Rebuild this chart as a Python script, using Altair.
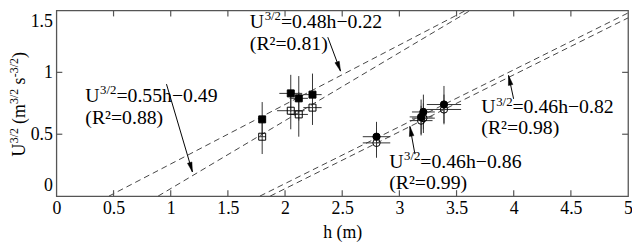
import math
import altair as alt
import pandas as pd

# ---------------- data ----------------
x_ticks = [0, 0.5, 1, 1.5, 2, 2.5, 3, 3.5, 4, 4.5, 5]
y_ticks = [0, 0.5, 1, 1.5]

sq_h = [1.80, 2.05, 2.12, 2.24]
sq_filled_U = [0.62, 0.83, 0.79, 0.82]
sq_open_U = [0.48, 0.69, 0.66, 0.715]
sq_filled_errU = [0.14, 0.15, 0.18, 0.17]
sq_open_errU = [0.14, 0.15, 0.18, 0.14]
sq_filled_errh = [0.03, 0.10, 0.08, 0.08]
sq_open_errh = [0.03, 0.12, 0.08, 0.08]

ci_h = [2.80, 3.19, 3.21, 3.39]
ci_filled_U = [0.48, 0.64, 0.68, 0.74]
ci_open_U = [0.43, 0.61, 0.63, 0.70]
ci_filled_errU = [0.12, 0.14, 0.14, 0.15]
ci_open_errU = [0.12, 0.12, 0.12, 0.12]
ci_errh = [0.12, 0.10, 0.10, 0.15]

# fitted lines (end points)
line_h0 = [0.46, 0.89, 1.78, 1.87]
line_U0 = [0.0, 0.0, 0.0, 0.0]
line_h1 = [3.58, 3.62, 5.0, 5.0]
line_U1 = [1.5, 1.5, 1.48, 1.44]

# annotations
eq_text = ["=0.48h\u22120.22", "=0.55h\u22120.49", "=0.46h\u22120.82", "=0.46h\u22120.86"]
r2_text = ["(R\u00b2=0.81)", "(R\u00b2=0.88)", "(R\u00b2=0.98)", "(R\u00b2=0.99)"]
eq_h = [1.692, 0.253, 3.717, 2.911]
eq_U = [1.362, 0.760, 0.668, 0.230]
r2_U = [1.184, 0.579, 0.498, 0.055]

arrow_h0 = [2.374, 0.963, 3.999, 3.136]
arrow_U0 = [1.284, 0.905, 0.786, 0.339]
arrow_h1 = [2.485, 1.190, 3.955, 3.092]
arrow_U1 = [1.010, 0.195, 0.975, 0.563]

# ---------------- layout ----------------
W, H = 579, 188
KX = W / 5.0
KY = H / 1.5
FONT = "Liberation Serif, Times New Roman, serif"
INK = "#333333"
FRAME = "#555555"

x_scale = alt.Scale(domain=[0, 5], nice=False, zero=False)
y_scale = alt.Scale(domain=[0, 1.5], nice=False, zero=False)

x_axis = alt.Axis(values=x_ticks, format="~g", title="h (m)", domain=False, ticks=False,
                  grid=False, labelFont=FONT, labelFontSize=18, labelColor="black",
                  labelPadding=4, labelFlush=False, titleFont=FONT, titleFontSize=18,
                  titleFontWeight="normal", titleColor="black", titlePadding=6)
y_axis = alt.Axis(values=y_ticks, format="~g", title=None, domain=False, ticks=False,
                  grid=False, labelFont=FONT, labelFontSize=18, labelColor="black",
                  labelPadding=4, labelFlush=True, labelFlushOffset=-2)


def X(f):
    return alt.X(f, type="quantitative", scale=x_scale, axis=x_axis)


def Y(f):
    return alt.Y(f, type="quantitative", scale=y_scale, axis=y_axis)


# points table
rows = []
for i in range(4):
    rows.append(dict(h=sq_h[i], U=sq_filled_U[i], eu=sq_filled_errU[i], eh=sq_filled_errh[i], kind="fsq"))
    rows.append(dict(h=sq_h[i], U=sq_open_U[i], eu=sq_open_errU[i], eh=sq_open_errh[i], kind="osq"))
    rows.append(dict(h=ci_h[i], U=ci_filled_U[i], eu=ci_filled_errU[i], eh=ci_errh[i], kind="fci"))
    rows.append(dict(h=ci_h[i], U=ci_open_U[i], eu=ci_open_errU[i], eh=ci_errh[i], kind="oci"))
pts = pd.DataFrame(rows)
pts["h_lo"] = pts.h - pts.eh
pts["h_hi"] = pts.h + pts.eh
pts["U_lo"] = pts.U - pts.eu
pts["U_hi"] = pts.U + pts.eu

base = alt.Chart(pts)
err_h = base.mark_rule(color=INK, strokeWidth=1).encode(x=X("h_lo"), x2="h_hi", y=Y("U"))
err_v = base.mark_rule(color=INK, strokeWidth=1).encode(x=X("h"), y=Y("U_lo"), y2="U_hi")

lines = pd.DataFrame(dict(h0=line_h0, U0=line_U0, h1=line_h1, U1=line_U1))
fit = alt.Chart(lines).mark_rule(color="#444444", strokeWidth=1, strokeDash=[6, 4]).encode(
    x=X("h0"), y=Y("U0"), x2="h1", y2="U1")

# inner tick marks
tl_U = 6 / KY
tl_h = 6 / KX
tick_rows = []
for t in x_ticks[1:-1]:
    tick_rows.append(dict(a=t, b=t, c=0, d=tl_U))
    tick_rows.append(dict(a=t, b=t, c=1.5, d=1.5 - tl_U))
for t in y_ticks[1:-1]:
    tick_rows.append(dict(a=0, b=tl_h, c=t, d=t))
    tick_rows.append(dict(a=5, b=5 - tl_h, c=t, d=t))
ticks = alt.Chart(pd.DataFrame(tick_rows)).mark_rule(color=FRAME, strokeWidth=1.2).encode(
    x=X("a"), x2="b", y=Y("c"), y2="d")


def pts_layer(kind, shape, filled, size):
    d = pts[pts.kind == kind]
    if filled:
        m = alt.Chart(d).mark_point(shape=shape, filled=True, fill="black", stroke="black",
                                    strokeWidth=1, size=size, opacity=1)
    else:
        m = alt.Chart(d).mark_point(shape=shape, filled=False, stroke="black",
                                    strokeWidth=1, size=size, opacity=1)
    return m.encode(x=X("h"), y=Y("U"))


p_fsq = pts_layer("fsq", "square", True, 50)
p_osq = pts_layer("osq", "square", False, 50)
p_fci = pts_layer("fci", "circle", True, 55)
p_oci = pts_layer("oci", "circle", False, 55)

# arrows
arr = pd.DataFrame(dict(h0=arrow_h0, U0=arrow_U0, h1=arrow_h1, U1=arrow_U1))
arr["ang"] = [math.degrees(math.atan2((a1 - a0) * KX, (b1 - b0) * KY)) % 360
              for a0, b0, a1, b1 in zip(arrow_h0, arrow_U0, arrow_h1, arrow_U1)]
shaft = alt.Chart(arr).mark_rule(color="black", strokeWidth=1).encode(
    x=X("h0"), y=Y("U0"), x2="h1", y2="U1")
head = alt.Chart(arr).mark_point(shape="M0,0L0.42,1.8L-0.42,1.8Z", filled=True, fill="black",
                                 stroke="black", strokeWidth=0.5, size=120, opacity=1).encode(
    x=X("h1"), y=Y("U1"), angle=alt.Angle("ang:Q", scale=None))

# annotation text
ann = pd.DataFrame(dict(h=eq_h, U=eq_U, U2=r2_U, eq=eq_text, r2=r2_text))
ann["u"] = "U"
ann["sup"] = "3/2"
tb = alt.Chart(ann)
txt_u = tb.mark_text(font=FONT, fontSize=20, align="left", baseline="alphabetic", color="black").encode(
    x=X("h"), y=Y("U"), text="u:N")
txt_sup = tb.mark_text(font=FONT, fontSize=13, align="left", baseline="alphabetic", color="black",
                       dx=15, dy=-8).encode(x=X("h"), y=Y("U"), text="sup:N")
txt_eq = tb.mark_text(font=FONT, fontSize=20, align="left", baseline="alphabetic", color="black",
                      dx=31.5).encode(x=X("h"), y=Y("U"), text="eq:N")
txt_r2 = tb.mark_text(font=FONT, fontSize=20, align="left", baseline="alphabetic", color="black").encode(
    x=X("h"), y=Y("U2"), text="r2:N")

# rotated y-axis title built from pieces (normal text + superscripts)
title_pieces = [("U", 18, 0.0, 0), ("3/2", 12, 13.5, -7), ("(m", 18, 33.0, 0),
                ("3/2", 12, 53.3, -7), ("s", 18, 73.0, 0), ("-3/2", 12, 80.5, -7),
                (")", 18, 99.8, 0)]
ytitle_layers = []
for t, fs, off, sup in title_pieces:
    ytitle_layers.append(
        alt.Chart(pd.DataFrame({"t": [t]})).mark_text(
            font=FONT, fontSize=fs, align="left", baseline="alphabetic", angle=270, color="black"
        ).encode(x=alt.value(-32 + sup), y=alt.value(148 - off), text="t:N")
    )

chart = alt.layer(
    fit, err_h, err_v, ticks, p_osq, p_oci, p_fsq, p_fci, shaft, head,
    txt_u, txt_sup, txt_eq, txt_r2, *ytitle_layers
).properties(
    width=W, height=H,
    padding={"left": 49, "top": 1, "right": 4, "bottom": 47},
    autosize=alt.AutoSizeParams(type="none"),
    background="white",
).configure_view(stroke=FRAME, strokeWidth=1.3)

chart.save("out.html", embed_options={"renderer": "svg", "actions": False})
